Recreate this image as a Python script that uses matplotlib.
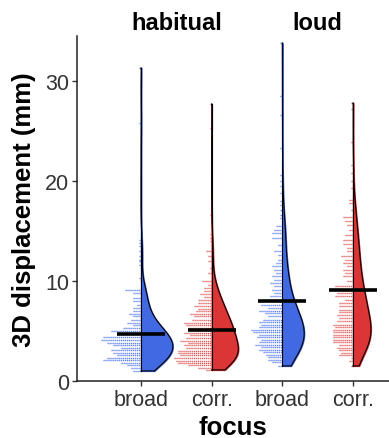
import numpy as np
import matplotlib
matplotlib.use("Agg")
import matplotlib.pyplot as plt

plt.rcParams["font.family"] = ["Liberation Sans", "DejaVu Sans"]

# groups, left to right
tick_labels = ["broad", "corr.", "broad", "corr."]
panel_titles = ["habitual", "loud"]
fill_colors = ["#4169E1", "#DC3535", "#4169E1", "#DC3535"]
dot_colors = ["#5F82EC", "#E05A5A", "#5F82EC", "#E05A5A"]

# binned displacement values (mm) and number of observations per bin
hab_broad_y = [1.0, 1.3, 1.55, 1.8, 2.05, 2.3, 2.55, 2.8, 3.05, 3.3, 3.55, 3.8, 4.1, 4.35,
               4.7, 4.95, 5.3, 5.6, 5.8, 6.1, 6.45, 6.7, 6.95, 7.3, 7.6, 8.0, 8.3, 8.8,
               9.1, 10.3, 11.6, 12.0, 12.1, 12.5, 13.0, 13.5, 13.8, 14.1, 25.8, 31.3]
hab_broad_n = [4, 5, 7, 10, 19, 17, 12, 14, 15, 10, 14, 17, 20, 19,
               12, 15, 9, 4, 7, 5, 4, 6, 4, 4, 2, 4, 4, 4,
               8, 1, 1, 1, 1, 1, 1, 1, 1, 1, 1, 1]

hab_corr_y = [1.1, 1.3, 1.6, 1.8, 2.0, 2.3, 2.6, 2.8, 3.0, 3.3, 3.6, 3.8, 4.0, 4.3,
              4.6, 4.8, 5.1, 5.3, 5.6, 5.8, 6.1, 6.5, 6.7, 7.0, 7.2, 7.5, 7.8, 8.1,
              8.4, 8.7, 9.0, 9.3, 9.6, 10.0, 10.8, 11.3, 12.0, 12.5, 13.0, 14.0,
              14.3, 14.7, 16.6, 25.3, 27.7]
hab_corr_n = [3, 7, 12, 17, 18, 19, 16, 17, 17, 13, 14, 12, 16, 13,
              11, 14, 12, 12, 13, 14, 10, 9, 11, 8, 7, 9, 7, 7,
              4, 6, 4, 4, 2, 5, 2, 1, 2, 2, 3, 1,
              1, 1, 1, 1, 1]

loud_broad_y = [1.5, 1.9, 2.1, 2.4, 2.6, 2.9, 3.1, 3.4, 3.6, 3.9, 4.1, 4.4, 4.6, 4.9,
                5.1, 5.4, 5.6, 5.9, 6.1, 6.5, 6.8, 7.0, 7.3, 7.6, 8.0, 8.5, 8.8, 9.1,
                9.5, 9.8, 10.1, 10.5, 10.8, 11.1, 11.5, 11.8, 12.1, 12.6, 13.0, 13.6,
                14.3, 14.8, 15.1, 15.5, 16.3, 16.6, 17.1, 17.6, 18.0, 18.8, 19.5,
                20.0, 20.6, 23.3, 26.6, 28.5, 33.8]
loud_broad_n = [2, 5, 7, 7, 8, 10, 12, 11, 14, 12, 11, 13, 12, 15,
                16, 12, 11, 12, 10, 7, 9, 12, 7, 11, 6, 6, 4, 5,
                4, 6, 4, 5, 3, 4, 5, 3, 2, 2, 4, 2,
                5, 5, 4, 3, 1, 1, 1, 1, 1, 1, 1,
                1, 1, 1, 1, 1, 1]

loud_corr_y = [1.5, 2.0, 2.3, 2.6, 2.8, 3.1, 3.3, 3.6, 3.9, 4.1, 4.4, 4.6, 4.9, 5.1,
               5.4, 5.6, 6.0, 6.3, 6.6, 6.9, 7.1, 7.5, 7.8, 8.1, 8.5, 8.8, 9.1, 9.5,
               10.0, 10.5, 10.8, 11.1, 11.5, 11.8, 12.1, 12.5, 13.0, 13.3, 13.7, 14.1,
               14.6, 15.1, 15.6, 16.0, 16.4, 17.1, 17.8, 18.1, 19.3, 20.0, 20.8,
               21.6, 23.9, 27.2, 27.8]
loud_corr_n = [1, 2, 1, 7, 6, 7, 8, 7, 10, 10, 10, 10, 10, 10,
               9, 10, 8, 7, 8, 7, 7, 7, 7, 4, 9, 8, 8, 9,
               3, 5, 4, 5, 3, 5, 4, 6, 3, 3, 5, 5,
               4, 2, 3, 4, 5, 1, 2, 2, 1, 1, 1,
               1, 1, 1, 1]

medians = [4.7, 5.1, 8.0, 9.1]

groups_y = [hab_broad_y, hab_corr_y, loud_broad_y, loud_corr_y]
groups_n = [hab_broad_n, hab_corr_n, loud_broad_n, loud_corr_n]


def kde(values, weights, grid):
    v = np.asarray(values, float)
    w = np.asarray(weights, float)
    w = w / w.sum()
    mean = np.sum(w * v)
    sd = np.sqrt(np.sum(w * (v - mean) ** 2))
    bw = 1.2 * sd * np.sum(weights) ** -0.2
    z = (grid[:, None] - v[None, :]) / bw
    return (np.exp(-0.5 * z ** 2) * w[None, :]).sum(axis=1) / (bw * np.sqrt(2 * np.pi))


fig = plt.figure(figsize=(3.89, 4.39), dpi=100)
ax = fig.add_axes([0.198, 0.130, 0.802, 0.7859])

positions = np.arange(1, len(tick_labels) + 1)
dot_w = 0.028

# violin densities (area scaled across groups)
dens = []
grids = []
for ys, ns in zip(groups_y, groups_n):
    g = np.linspace(min(ys), max(ys), 400)
    grids.append(g)
    dens.append(kde(ys, ns, g))
dmax = max(d.max() for d in dens)

for i, x0 in enumerate(positions):
    ys, ns = groups_y[i], groups_n[i]
    # dot strips to the left
    ax.hlines(ys, x0 - np.asarray(ns) * dot_w, x0, colors=dot_colors[i],
              linewidth=1.0, linestyles=(0, (0.9, 0.5)), zorder=2)
    # half violin to the right
    half = dens[i] / dmax * 0.45
    g = grids[i]
    ax.fill_betweenx(g, x0, x0 + half, color=fill_colors[i], zorder=3)
    ax.plot(np.r_[x0, x0 + half, x0], np.r_[g[0], g, g[-1]], color="black",
            linewidth=0.8, zorder=4)
    ax.plot([x0, x0], [g[0], g[-1]], color="black", linewidth=0.8, zorder=4)
    # median bar
    ax.hlines(medians[i], x0 - 0.34, x0 + 0.34, colors="black", linewidth=2.6, zorder=5)

ax.set_xlim(0.094, 4.51)
ax.set_ylim(0, 34.5)
ax.set_xticks(positions)
ax.set_xticklabels(tick_labels)
ax.set_yticks([0, 10, 20, 30])

for side in ["top", "right"]:
    ax.spines[side].set_visible(False)
for side in ["left", "bottom"]:
    ax.spines[side].set_linewidth(1.1)
    ax.spines[side].set_color("#222222")
ax.tick_params(axis="both", direction="out", length=3.5, width=1.0, color="#333333",
               labelsize=15.5, labelcolor="#333333", pad=2)

ax.set_ylabel("3D displacement (mm)", fontsize=18.5, fontweight="bold", labelpad=7)
ax.set_xlabel("focus", fontsize=18.5, fontweight="bold", labelpad=4)

for j, title in enumerate(panel_titles):
    xc = positions[2 * j:2 * j + 2].mean()
    ax.text(xc, 1.005, title, transform=ax.get_xaxis_transform(), ha="center",
            va="bottom", fontsize=17, fontweight="bold")

fig.savefig("out.png", dpi=100)
